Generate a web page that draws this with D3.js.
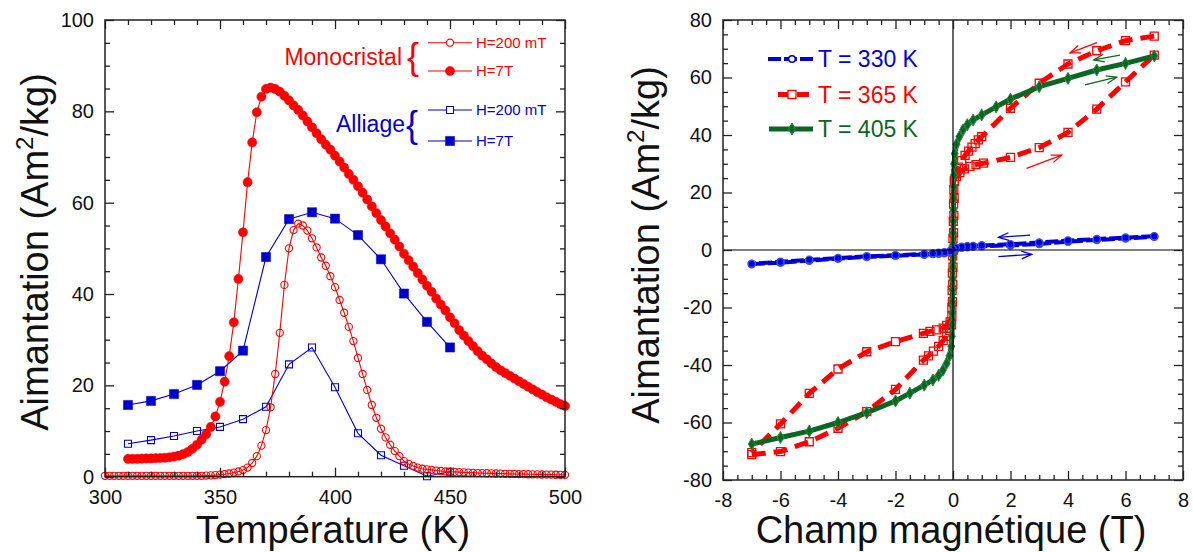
<!DOCTYPE html>
<html><head><meta charset="utf-8">
<script src="https://cdn.jsdelivr.net/npm/d3@7"></script>
<style>
html,body{margin:0;padding:0;background:#fff;}
svg{display:block;}
</style></head><body>
<svg id="chart" width="1193" height="552"></svg>
<script>
// ---------------- LEFT PANEL DATA ----------------
const tempMono200 = [300,302,304,306,308,310,312,314,316,318,320,322,324,326,328,330,332,334,336,338,340,342,344,346,348,350,352,354,356,358,360,362,364,366,368,370,372,374,376,378,380,382,384,386,388,390,392,394,396,398,400,402,404,406,408,410,412,414,416,418,420,422,424,426,428,430,432,434,436,438,440,442,444,446,448,450,452,454,456,458,460,462,464,466,468,470,472,474,476,478,480,482,484,486,488,490,492,494,496,498,500];
const magMono200 = [0.2,0.2,0.2,0.2,0.2,0.2,0.2,0.2,0.2,0.2,0.2,0.2,0.2,0.2,0.2,0.2,0.2,0.2,0.2,0.2,0.2,0.2,0.25,0.3,0.35,0.45,0.55,0.7,0.9,1.15,1.45,2.0,3.0,4.5,6.8,10.2,15.2,22.5,31.5,42,50,54,55.4,55,53.9,52.2,50.2,48,46.2,43.9,41.5,38.7,35.9,32.8,29.7,26,22.5,19,15.7,12.9,10.5,8.6,7,5.6,4.5,3.4,2.8,2.35,2.0,1.75,1.6,1.5,1.35,1.25,1.15,1.1,1.05,1.0,0.95,0.9,0.85,0.8,0.78,0.75,0.72,0.7,0.67,0.64,0.62,0.6,0.58,0.56,0.54,0.52,0.5,0.48,0.46,0.45,0.43,0.42,0.4];
const tempMono7T = [310,312,314,316,318,320,322,324,326,328,330,332,334,336,338,340,342,344,346,348,350,352,354,356,358,360,362,364,366,368,370,372,374,376,378,380,382,384,386,388,390,392,394,396,398,400,402,404,406,408,410,412,414,416,418,420,422,424,426,428,430,432,434,436,438,440,442,444,446,448,450,452,454,456,458,460,462,464,466,468,470,472,474,476,478,480,482,484,486,488,490,492,494,496,498,500];
const magMono7T = [3.9,3.9,3.9,3.95,4.0,4.0,4.05,4.1,4.15,4.25,4.4,4.6,4.95,5.4,6.1,7.0,8.1,9.3,10.9,13.2,16.4,20.8,26.4,33.8,43.3,53.5,64.5,73.2,79.8,83.2,84.9,85.2,84.9,84.3,83.4,82.4,81.3,80.3,79.1,77.8,76.5,75.2,73.9,72.7,71.6,70.3,69.0,67.7,66.3,65.0,63.6,62.2,60.7,59.2,57.7,56.2,54.8,53.3,51.9,50.4,48.8,47.4,46.0,44.6,43.2,41.8,40.5,39.0,37.7,36.4,34.9,33.6,32.1,30.9,29.7,28.6,27.5,26.5,25.7,24.8,24.0,23.3,22.7,22.1,21.5,20.9,20.3,19.7,19.1,18.5,18.0,17.4,16.9,16.4,15.9,15.5];
const tempAlliage = [310,320,330,340,350,360,370,380,390,400,410,420,430,440,450];
const magAlliage200 = [7.2,8.0,8.9,10.0,10.9,12.6,15.3,24.6,28.3,19.6,9.5,4.7,2.4,0.1,1.1];
const magAlliage7T = [15.7,16.6,18.1,20.1,23.1,27.6,48.1,56.4,57.9,56.5,52.9,47.6,40.1,33.9,28.3];
const leftXTicks = [300,350,400,450,500];
const leftYTicks = [0,20,40,60,80,100];

// ---------------- RIGHT PANEL DATA ----------------
const field330Down = [7,6,5,4,3,2,1,0.7,0.5,0.3,0.1,0,-0.1,-0.3,-0.5,-0.7,-1,-2,-3,-4,-5,-6,-7];
const mag330Down   = [4.8,4.3,3.8,3.3,2.6,2.0,1.6,1.4,1.3,1.1,0.8,0.2,-0.4,-0.8,-1.0,-1.2,-1.4,-1.8,-2.2,-2.8,-3.4,-4.1,-4.8];
const field330Up   = [-7,-6,-5,-4,-3,-2,-1,-0.7,-0.5,-0.3,-0.1,0,0.1,0.3,0.5,0.7,1,2,3,4,5,6,7];
const mag330Up     = [-4.9,-4.4,-3.7,-3.0,-2.4,-2.0,-1.6,-1.4,-1.3,-1.1,-0.8,-0.2,0.4,0.8,1.0,1.2,1.3,1.6,2.1,2.9,3.5,4.0,4.6];

const field365Down = [7,6,5,4,3,2,1,0.88,0.77,0.66,0.54,0.42,0.3,0.19,0.1,0.05,0.04,0.03,0.02,0.01,0,-0.01,-0.02,-0.04,-0.1,-0.22,-0.34,-0.57,-0.8,-1.03,-2,-3,-4,-5,-6,-7];
const mag365Down   = [74.4,72.8,69.3,64.7,58,49.3,39.4,38.3,37,35.8,34.4,32.9,31.1,28.8,26.5,24,18,12,6,0,-6,-12,-18,-23,-25,-26.2,-27.2,-27.8,-28.3,-29,-31.9,-35.4,-41.4,-49.9,-60.5,-70.5];
const field365Up   = [-7,-6,-5,-4,-3,-2,-1.03,-0.85,-0.68,-0.5,-0.34,-0.22,-0.12,-0.05,-0.04,-0.03,-0.02,-0.01,0,0.01,0.02,0.03,0.05,0.12,0.24,0.4,0.59,0.8,1.06,2,3,4,5,6,7];
const mag365Up     = [-71.2,-70.1,-66.7,-62,-56.2,-48.5,-38.3,-36.8,-35.2,-33.5,-31.5,-30,-28,-26,-20,-14,-8,-2,4,10,16,21,24,25.5,26.9,28.2,29.1,29.7,30.2,32.2,35.6,40.9,49,58.5,67.8];

const field405 = [-7,-6,-5,-4,-3,-2,-1.5,-1,-0.7,-0.5,-0.35,-0.22,-0.12,-0.06,-0.04,-0.03,-0.025,-0.02,-0.015,-0.01,-0.007,-0.003,0.003,0.007,0.01,0.015,0.02,0.025,0.03,0.04,0.06,0.12,0.22,0.35,0.5,0.7,1,1.5,2,3,4,5,6,7];
const mag405   = [-67.5,-65.2,-63.0,-60.0,-56.6,-52.5,-49.8,-47.0,-45.2,-43.6,-41.8,-39.4,-36.8,-33.5,-30,-26,-22,-18,-14,-10,-6,-2,2,6,10,14,18,22,26,30,33.5,36.8,39.4,41.8,43.6,45.2,47.0,49.8,52.5,56.8,59.7,62.6,64.9,67.5];

const rightXTicks = [-8,-6,-4,-2,0,2,4,6,8];
const rightYTicks = [-80,-60,-40,-20,0,20,40,60,80];

// direction arrows (field, magnetisation) start -> end
const arrows365 = [{h0:5.01,m0:72.1,h1:4.07,m1:68.6},{h0:2.56,m0:28.4,h1:3.78,m1:33.0}];
const arrows405 = [{h0:5.81,m0:67.8,h1:4.9,m1:66.1},{h0:4.59,m0:57.4,h1:5.69,m1:60.1}];
const arrows330 = [{h0:2.68,m0:5.2,h1:1.58,m1:4.4},{h0:1.58,m0:-2.3,h1:2.74,m1:-1.5}];

// ---------------- DRAWING ----------------
const FONT = '"Liberation Sans", Arial, Helvetica, sans-serif';
const RED = "#ff0000", BLUE = "#0000cc", BLUE2 = "#0000d4", GREEN = "#0b6623", AX = "#222";
const svg = d3.select("#chart").attr("font-family", FONT);

function styleAxis(sel){
  sel.select(".domain").remove();
  sel.attr("font-family", FONT).attr("font-size", 20);
  sel.selectAll(".tick line").attr("stroke", AX).attr("stroke-width", 1.3);
  sel.selectAll(".tick text").attr("fill", "#111");
  sel.selectAll(".tick text").filter(function(){ return this.textContent === ""; }).remove();
}
function drawFrame(x, y, majX, minX, majY, minY){
  const [xa, xb] = x.range(), [yb, ya] = y.range();
  const g = svg.append("g");
  const fmt = d => String(d);
  g.append("g").attr("transform",`translate(0,${yb})`).call(d3.axisBottom(x).tickValues(majX).tickSize(-9).tickPadding(13).tickFormat(fmt)).call(styleAxis);
  g.append("g").attr("transform",`translate(0,${yb})`).call(d3.axisBottom(x).tickValues(minX).tickSize(-5).tickFormat("")).call(styleAxis);
  g.append("g").attr("transform",`translate(0,${ya})`).call(d3.axisTop(x).tickValues(majX).tickSize(-9).tickFormat("")).call(styleAxis);
  g.append("g").attr("transform",`translate(0,${ya})`).call(d3.axisTop(x).tickValues(minX).tickSize(-5).tickFormat("")).call(styleAxis);
  g.append("g").attr("transform",`translate(${xa},0)`).call(d3.axisLeft(y).tickValues(majY).tickSize(-9).tickPadding(11).tickFormat(fmt)).call(styleAxis);
  g.append("g").attr("transform",`translate(${xa},0)`).call(d3.axisLeft(y).tickValues(minY).tickSize(-5).tickFormat("")).call(styleAxis);
  g.append("g").attr("transform",`translate(${xb},0)`).call(d3.axisRight(y).tickValues(majY).tickSize(-9).tickFormat("")).call(styleAxis);
  g.append("g").attr("transform",`translate(${xb},0)`).call(d3.axisRight(y).tickValues(minY).tickSize(-5).tickFormat("")).call(styleAxis);
  g.append("rect").attr("x",xa).attr("y",ya).attr("width",xb-xa).attr("height",yb-ya)
    .attr("fill","none").attr("stroke",AX).attr("stroke-width",1.5);
}
function yTitle(x, y){
  const t = svg.append("text").attr("transform",`translate(${x},${y}) rotate(-90)`)
    .attr("text-anchor","middle").attr("font-size",38).attr("fill","#111");
  t.append("tspan").text("Aimantation (Am");
  t.append("tspan").attr("font-size",24).attr("dy",-15).text("2");
  t.append("tspan").attr("dy",15).text("/kg)");
}

// ===== LEFT =====
const xL = d3.scaleLinear().domain([300,500]).range([105,565]);
const yL = d3.scaleLinear().domain([0,100]).range([476.7,20]);
const minorLX = d3.range(300,501,10).filter(v => !leftXTicks.includes(v));
const minorLY = d3.range(0,101,5).filter(v => !leftYTicks.includes(v));

const lineL = d3.line().x(d => xL(d[0])).y(d => yL(d[1]));
function seriesL(temps, mags, color, marker){
  const pts = temps.map((t,i) => [t, mags[i]]);
  const g = svg.append("g");
  g.append("path").attr("d", lineL(pts)).attr("fill","none").attr("stroke",color).attr("stroke-width",1.1);
  g.selectAll("path.m").data(pts).join("path").attr("class","m")
    .attr("transform", d => `translate(${xL(d[0])},${yL(d[1])})`)
    .attr("d", d3.symbol(marker.type, marker.size)())
    .attr("fill", marker.fill).attr("stroke", color).attr("stroke-width", marker.sw);
}
const mOpenCircle = {type:d3.symbolCircle, size:Math.PI*3.6*3.6, fill:"none", sw:1.1};
const mFillCircle = {type:d3.symbolCircle, size:Math.PI*4.6*4.6, fill:RED, sw:0.5};
const mOpenSquare = {type:d3.symbolSquare, size:49, fill:"none", sw:1.1};
const mFillSquare = {type:d3.symbolSquare, size:84, fill:BLUE, sw:0.5};

seriesL(tempAlliage, magAlliage200, BLUE, mOpenSquare);
seriesL(tempAlliage, magAlliage7T, BLUE, mFillSquare);
seriesL(tempMono200, magMono200, RED, mOpenCircle);
seriesL(tempMono7T, magMono7T, RED, mFillCircle);
drawFrame(xL, yL, leftXTicks, minorLX, leftYTicks, minorLY);

svg.append("text").attr("x",333).attr("y",543).attr("text-anchor","middle")
  .attr("font-size",38).attr("fill","#111").text("Température (K)");
yTitle(48, 252);

// left legend
function legendRow(g, x0, x1, y, color, marker, label){
  g.append("line").attr("x1",x0).attr("x2",x1).attr("y1",y).attr("y2",y).attr("stroke",color).attr("stroke-width",1.1);
  g.append("path").attr("transform",`translate(${(x0+x1)/2},${y})`).attr("d", d3.symbol(marker.type, marker.size)())
    .attr("fill", marker.fill === "none" ? "#fff" : marker.fill).attr("stroke", color).attr("stroke-width", marker.sw);
  g.append("text").attr("x", x1+4).attr("y", y).attr("dy","0.35em").attr("font-size",15).attr("fill",color).text(label);
}
const lg = svg.append("g");
lg.append("text").attr("x",402).attr("y",65).attr("text-anchor","end").attr("font-size",23).attr("fill",RED).text("Monocristal");
lg.append("text").attr("x",407).attr("y",69).attr("font-size",36).attr("fill",RED).text("{");
legendRow(lg, 428, 472, 42.7, RED, mOpenCircle, "H=200 mT");
legendRow(lg, 428, 472, 71, RED, mFillCircle, "H=7T");
lg.append("text").attr("x",405).attr("y",131.5).attr("text-anchor","end").attr("font-size",23).attr("fill",BLUE).text("Alliage");
lg.append("text").attr("x",406).attr("y",137).attr("font-size",36).attr("fill",BLUE).text("{");
legendRow(lg, 428, 472, 110, BLUE, mOpenSquare, "H=200 mT");
legendRow(lg, 428, 472, 141, BLUE, mFillSquare, "H=7T");

// ===== RIGHT =====
const xR = d3.scaleLinear().domain([-8,8]).range([723,1183]);
const yR = d3.scaleLinear().domain([-80,80]).range([480,20]);
const minorRX = d3.range(-8,8.01,0.5).filter(v => !rightXTicks.includes(v));
const minorRY = d3.range(-80,81,5).filter(v => !rightYTicks.includes(v));
const lineR = d3.line().x(d => xR(d[0])).y(d => yR(d[1]));

function seriesR(fields, mags, color, width, dash, marker){
  const pts = fields.map((h,i) => [h, mags[i]]);
  const g = svg.append("g");
  g.append("path").attr("d", lineR(pts)).attr("fill","none").attr("stroke",color)
    .attr("stroke-width",width).attr("stroke-dasharray", dash).attr("stroke-linejoin","round");
  g.selectAll("path.m").data(pts).join("path").attr("class","m")
    .attr("transform", d => `translate(${xR(d[0])},${yR(d[1])})`)
    .attr("d", d3.symbol(marker.type, marker.size)())
    .attr("fill", marker.fill).attr("stroke", marker.stroke).attr("stroke-width", marker.sw);
}
function drawArrows(list, color){
  list.forEach(a => {
    const x1 = xR(a.h0), y1 = yR(a.m0), x2 = xR(a.h1), y2 = yR(a.m1);
    const ang = Math.atan2(y2-y1, x2-x1), L = 11, w = 0.36;
    svg.append("line").attr("x1",x1).attr("y1",y1).attr("x2",x2).attr("y2",y2).attr("stroke",color).attr("stroke-width",1.3);
    svg.append("path").attr("d",`M${x2-L*Math.cos(ang-w)},${y2-L*Math.sin(ang-w)}L${x2},${y2}L${x2-L*Math.cos(ang+w)},${y2-L*Math.sin(ang+w)}`)
      .attr("fill","none").attr("stroke",color).attr("stroke-width",1.3);
  });
}
const mRedSq = {type:d3.symbolSquare, size:64, fill:"none", stroke:RED, sw:1.3};
const mBlueC = {type:d3.symbolCircle, size:Math.PI*3.6*3.6, fill:BLUE2, stroke:"#3a4cf0", sw:1.4};
const mBlueLeg = {type:d3.symbolCircle, size:Math.PI*3.3*3.3, fill:"#fff", stroke:BLUE2, sw:1.6};
const mGreenD = {type:d3.symbolDiamond, size:42, fill:GREEN, stroke:"#2f8a45", sw:1};

seriesR(field365Up, mag365Up, RED, 5, "14,8", mRedSq);
seriesR(field365Down, mag365Down, RED, 5, "14,8", mRedSq);
seriesR(field405, mag405, GREEN, 5, null, mGreenD);
seriesR(field330Up, mag330Up, BLUE2, 4, "13,3", mBlueC);
seriesR(field330Down, mag330Down, BLUE2, 4, "13,3", mBlueC);
drawArrows(arrows365, RED);
drawArrows(arrows405, GREEN);
drawArrows(arrows330, BLUE2);

// zero lines
svg.append("line").attr("x1",xR(0)).attr("x2",xR(0)).attr("y1",yR(80)).attr("y2",yR(-80)).attr("stroke","#000").attr("stroke-width",1.2);
svg.append("line").attr("x1",xR(-8)).attr("x2",xR(8)).attr("y1",yR(0)).attr("y2",yR(0)).attr("stroke","#000").attr("stroke-width",1.2);
drawFrame(xR, yR, rightXTicks, minorRX, rightYTicks, minorRY);

svg.append("text").attr("x",951).attr("y",543).attr("text-anchor","middle")
  .attr("font-size",38).attr("fill","#111").text("Champ magnétique (T)");
yTitle(659, 245);

// right legend
const rg = svg.append("g");
function legendR(y, x0, x1, color, width, dash, marker, label){
  rg.append("line").attr("x1",x0).attr("x2",x1).attr("y1",y).attr("y2",y).attr("stroke",color)
    .attr("stroke-width",width).attr("stroke-dasharray",dash);
  rg.append("path").attr("transform",`translate(792,${y})`).attr("d", d3.symbol(marker.type, marker.size)())
    .attr("fill", marker.fill === "none" ? "#fff" : marker.fill).attr("stroke", marker.stroke).attr("stroke-width", marker.sw);
  rg.append("text").attr("x",818).attr("y",y).attr("dy","0.35em").attr("font-size",23).attr("fill",color).text(label);
}
legendR(59, 768, 815, BLUE2, 4, "13,3", mBlueLeg, "T = 330 K");
legendR(94.5, 778, 813, RED, 5, "12,7", mRedSq, "T = 365 K");
legendR(129, 769, 813, GREEN, 5, null, mGreenD, "T = 405 K");
</script>
</body></html>
